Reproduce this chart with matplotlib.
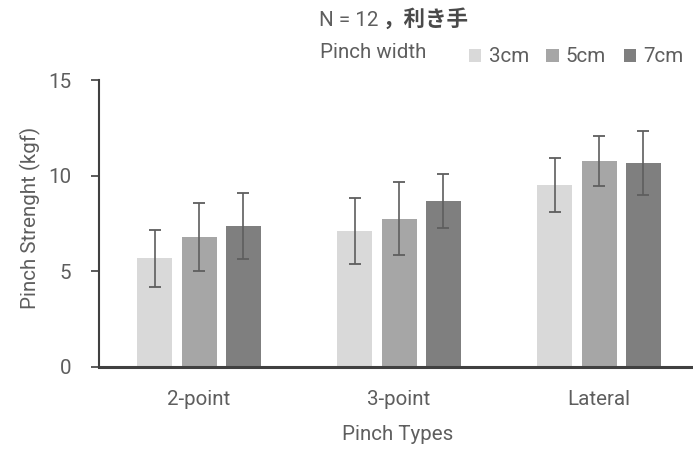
import matplotlib
matplotlib.use("Agg")
import matplotlib.pyplot as plt
import numpy as np

categories = ["2-point", "3-point", "Lateral"]
widths = ["3cm", "5cm", "7cm"]
means_3cm = [5.68, 7.11, 9.51]
means_5cm = [6.78, 7.75, 10.77]
means_7cm = [7.37, 8.66, 10.66]
err_3cm = [1.50, 1.72, 1.43]
err_5cm = [1.78, 1.90, 1.31]
err_7cm = [1.75, 1.42, 1.65]
yticks = [0, 5, 10, 15]

colors = ["#D9D9D9", "#A6A6A6", "#7F7F7F"]
txt = "#5e5e5e"
fs = 14.8
fw = "normal"
plt.rcParams['font.family'] = ['Roboto', 'Noto Sans CJK JP', 'DejaVu Sans']

fig = plt.figure(figsize=(6.93, 4.54), dpi=100)
ax = fig.add_axes([99/693, 87/454, 600/693, 287/454])

x = np.arange(len(categories))
bw = 0.175
offs = [-0.2215, 0.0, 0.2215]
series = [means_3cm, means_5cm, means_7cm]
errs = [err_3cm, err_5cm, err_7cm]
for i in range(3):
    ax.bar(x + offs[i], series[i], bw, color=colors[i], label=widths[i],
           yerr=errs[i], error_kw=dict(ecolor="#5e5e5e", elinewidth=1.2, capsize=4.3, capthick=1.3),
           zorder=2)

ax.set_xlim(-0.5, 2.5)
ax.set_ylim(0, 15)
ax.set_yticks(yticks)
ax.set_xticks(x)
ax.set_xticklabels(categories)
for s in ["top", "right"]:
    ax.spines[s].set_visible(False)
ax.spines["left"].set_color("#404040")
ax.spines["left"].set_linewidth(1.5)
ax.spines["bottom"].set_color("#404040")
ax.spines["bottom"].set_linewidth(2.2)
ax.tick_params(axis="y", length=6, width=1.2, color="#404040", pad=14, labelsize=fs, labelcolor=txt)
ax.tick_params(axis="x", length=0, pad=16.5, labelsize=fs, labelcolor=txt)

fig.text(30/693, 1 - 218/454, "Pinch Strenght (kgf)", rotation=90, ha="center", va="center",
         fontsize=fs, color=txt, fontweight=fw)
fig.text(398/693, 1 - 435/454, "Pinch Types", ha="center", va="center", fontsize=fs, color=txt, fontweight=fw)

fig.text(319/693, 1 - 20/454, "N = 12", ha="left", va="center", fontsize=fs, color=txt, fontweight=fw)
fig.text(383/693, 1 - 19/454, "，利き手", ha="left", va="center", fontsize=15.5, color="#4a4a4a",
         fontweight="bold", family=["Noto Sans CJK JP"])
fig.text(320/693, 1 - 52/454, "Pinch width", ha="left", va="center", fontsize=fs, color=txt, fontweight=fw)

handles, labels = ax.get_legend_handles_labels()
leg = fig.legend(handles, labels, loc="center left", bbox_to_anchor=(469/693, 1 - 57/454), ncol=3,
                 frameon=False, handlelength=0.6, handleheight=0.6, handletextpad=0.35,
                 columnspacing=0.85, fontsize=fs, borderpad=0, borderaxespad=0)
for t in leg.get_texts():
    t.set_color(txt)

fig.savefig("out.png", dpi=100)
